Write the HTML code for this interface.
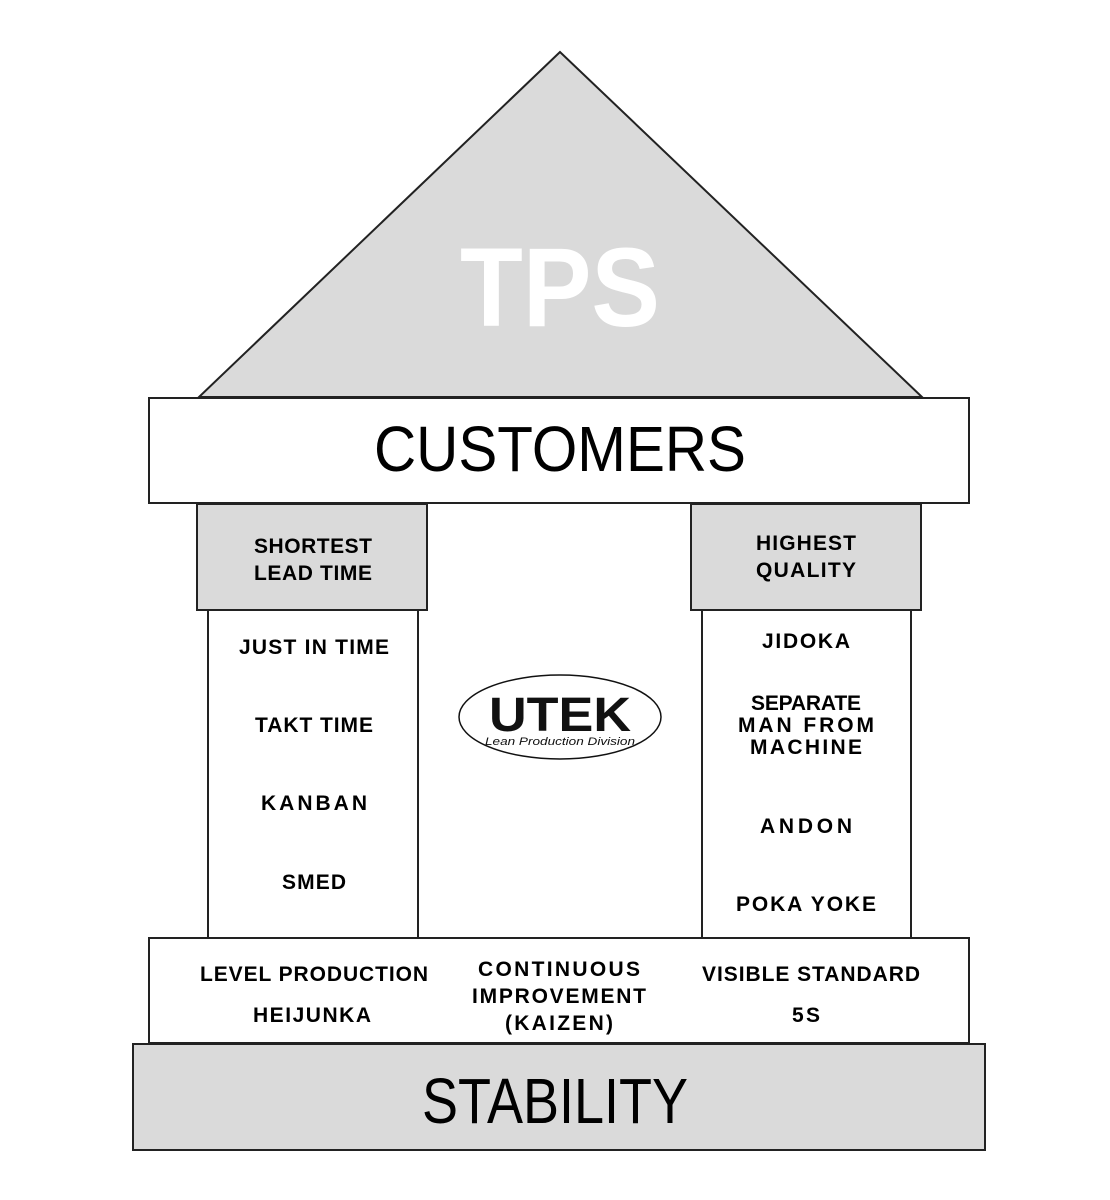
<!DOCTYPE html>
<html><head><style>body{margin:0;background:#fff}svg{display:block}</style></head><body>
<svg width="1110" height="1200" viewBox="0 0 1110 1200" xmlns="http://www.w3.org/2000/svg" font-family="Liberation Sans, sans-serif">
<polygon points="560,52 199,397 922,397" fill="#dadada" stroke="#222" stroke-width="2"/>
<text x="560" y="326" text-anchor="middle" font-size="112" font-weight="bold" fill="#fff" textLength="200" lengthAdjust="spacingAndGlyphs">TPS</text>
<rect x="149" y="398" width="820" height="105" fill="#fff" stroke="#222" stroke-width="2"/>
<text x="560" y="471" text-anchor="middle" font-size="64" fill="#000" textLength="372" lengthAdjust="spacingAndGlyphs">CUSTOMERS</text>
<rect x="208" y="610" width="210" height="328" fill="#fff" stroke="#222" stroke-width="2"/>
<rect x="702" y="610" width="209" height="328" fill="#fff" stroke="#222" stroke-width="2"/>
<rect x="197" y="504" width="230" height="106" fill="#dadada" stroke="#222" stroke-width="2"/>
<rect x="691" y="504" width="230" height="106" fill="#dadada" stroke="#222" stroke-width="2"/>
<rect x="149" y="938" width="820" height="105" fill="#fff" stroke="#222" stroke-width="2"/>
<rect x="133" y="1044" width="852" height="106" fill="#dadada" stroke="#222" stroke-width="2"/>
<text x="555" y="1123" text-anchor="middle" font-size="64" fill="#000" textLength="266" lengthAdjust="spacingAndGlyphs">STABILITY</text>
<g font-weight="bold" font-size="21" text-anchor="middle" fill="#000" lengthAdjust="spacingAndGlyphs">
<text x="313" y="553" textLength="118">SHORTEST</text><text x="313" y="580" textLength="118">LEAD TIME</text>
<text x="806" y="550" textLength="100">HIGHEST</text><text x="806" y="577" textLength="100">QUALITY</text>
<text x="314" y="654" textLength="150">JUST IN TIME</text>
<text x="314" y="732" textLength="118">TAKT TIME</text>
<text x="314" y="810" textLength="106">KANBAN</text>
<text x="314" y="889" textLength="64">SMED</text>
<text x="806" y="648" textLength="88">JIDOKA</text>
<text x="806" y="710" textLength="110">SEPARATE</text><text x="806" y="732" textLength="136">MAN FROM</text><text x="806" y="754" textLength="112">MACHINE</text>
<text x="806" y="833" textLength="92">ANDON</text>
<text x="806" y="911" textLength="140">POKA YOKE</text>
<text x="314" y="981" textLength="228">LEVEL PRODUCTION</text><text x="312" y="1022" textLength="118">HEIJUNKA</text>
<text x="559" y="976" textLength="162">CONTINUOUS</text><text x="559" y="1003" textLength="174">IMPROVEMENT</text><text x="559" y="1030" textLength="108">(KAIZEN)</text>
<text x="811" y="981" textLength="218">VISIBLE STANDARD</text><text x="806" y="1022" textLength="28">5S</text>
</g>
<ellipse cx="560" cy="717" rx="101" ry="42" fill="#fff" stroke="#111" stroke-width="1.5"/>
<text x="560" y="731" text-anchor="middle" font-size="48" font-weight="bold" fill="#111" textLength="142" lengthAdjust="spacingAndGlyphs">UTEK</text>
<text x="560" y="745" text-anchor="middle" font-size="11" font-style="italic" fill="#111" textLength="150" lengthAdjust="spacingAndGlyphs">Lean Production Division</text>
</svg>
</body></html>
